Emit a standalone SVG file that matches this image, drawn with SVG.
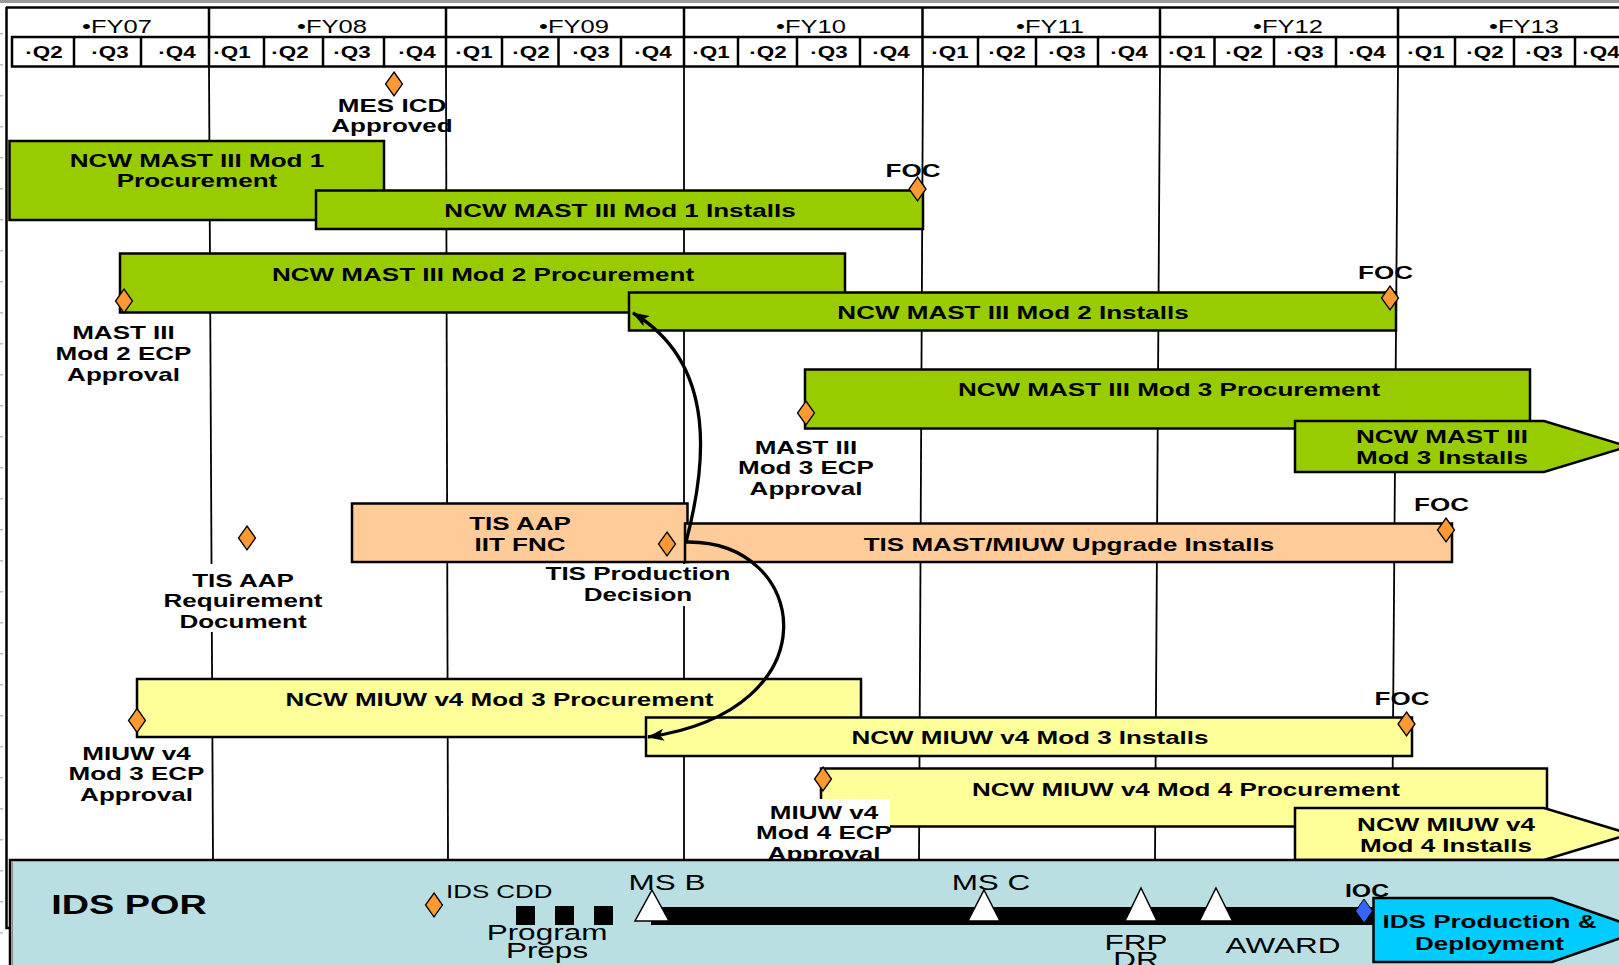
<svg xmlns="http://www.w3.org/2000/svg" width="1619" height="965" viewBox="0 0 1619 965">
  <style>
    .txt{font-family:"Liberation Sans",Arial,sans-serif;font-weight:700;font-size:18.6px;text-anchor:middle;fill:#000}
    .fy{font-weight:400;font-size:18px}
    .q{font-size:16px}
    .reg{font-weight:400;font-size:22.5px}
    .cdd{font-weight:400;font-size:18.5px;text-anchor:start}
    .por{font-size:27px}
    .ioc{font-size:17.7px}
    .bar{stroke:#000;stroke-width:2.5}
    .green{fill:#99CC00}
    .peach{fill:#FFCC99}
    .yellow{fill:#FFFF99}
    .dia{fill:#FF9933;stroke:#000;stroke-width:1.3}
    .grid{stroke:#000;stroke-width:1.8;fill:none}
    .frame{stroke:#000;stroke-width:2.5;fill:none}
    .tick{fill:#BBBBBB}
    .tri{fill:#FFFFFF;stroke:#000;stroke-width:1.5}
    .conn{fill:none;stroke:#000;stroke-width:3.3}
    .mask{fill:#FFFFFF}
  </style>
  <defs>
    <path id="dmd" d="M0,-12 L8.5,0 L0,12 L-8.5,0 Z"/>
    <marker id="ah" viewBox="0 0 17 12" refX="16" refY="6" markerWidth="17" markerHeight="12" markerUnits="userSpaceOnUse" orient="auto">
      <path d="M0,0 L17,6 L0,12 L4,6 Z" fill="#000"/>
    </marker>
  </defs>

  <rect width="1619" height="965" fill="#FFFFFF"/>

  <!-- ruler ticks down the left margin -->
  <g id="ruler">
    <rect class="tick" x="0" y="33" width="3" height="1.5"/>
    <rect class="tick" x="0" y="64" width="3" height="1.5"/>
    <rect class="tick" x="0" y="95" width="3" height="1.5"/>
    <rect class="tick" x="0" y="126" width="3" height="1.5"/>
    <rect class="tick" x="0" y="157" width="3" height="1.5"/>
    <rect class="tick" x="0" y="188" width="3" height="1.5"/>
    <rect class="tick" x="0" y="219" width="3" height="1.5"/>
    <rect class="tick" x="0" y="250" width="3" height="1.5"/>
    <rect class="tick" x="0" y="281" width="3" height="1.5"/>
    <rect class="tick" x="0" y="312" width="3" height="1.5"/>
    <rect class="tick" x="0" y="343" width="3" height="1.5"/>
    <rect class="tick" x="0" y="374" width="3" height="1.5"/>
    <rect class="tick" x="0" y="405" width="3" height="1.5"/>
    <rect class="tick" x="0" y="436" width="3" height="1.5"/>
    <rect class="tick" x="0" y="467" width="3" height="1.5"/>
    <rect class="tick" x="0" y="498" width="3" height="1.5"/>
    <rect class="tick" x="0" y="529" width="3" height="1.5"/>
    <rect class="tick" x="0" y="560" width="3" height="1.5"/>
    <rect class="tick" x="0" y="591" width="3" height="1.5"/>
    <rect class="tick" x="0" y="622" width="3" height="1.5"/>
    <rect class="tick" x="0" y="653" width="3" height="1.5"/>
    <rect class="tick" x="0" y="684" width="3" height="1.5"/>
    <rect class="tick" x="0" y="715" width="3" height="1.5"/>
    <rect class="tick" x="0" y="746" width="3" height="1.5"/>
    <rect class="tick" x="0" y="777" width="3" height="1.5"/>
    <rect class="tick" x="0" y="808" width="3" height="1.5"/>
    <rect class="tick" x="0" y="839" width="3" height="1.5"/>
    <rect class="tick" x="0" y="870" width="3" height="1.5"/>
    <rect class="tick" x="0" y="901" width="3" height="1.5"/>
    <rect class="tick" x="0" y="932" width="3" height="1.5"/>
  </g>

  <!-- outer frame -->
  <g id="frame">
    <rect x="0" y="0" width="1619" height="3" fill="#9A9A9A"/>
    <line class="frame" x1="6" y1="7.5" x2="1619" y2="7.5"/>
    <polyline class="frame" points="6.5,7 6.5,928 10,928"/>
  </g>

  <!-- fiscal year header -->
  <g id="header">
    <g class="frame">
      <line x1="209" y1="7.5" x2="209" y2="37"/>
      <line x1="446" y1="7.5" x2="446" y2="37"/>
      <line x1="684" y1="7.5" x2="684" y2="37"/>
      <line x1="922.5" y1="7.5" x2="922.5" y2="37"/>
      <line x1="1160" y1="7.5" x2="1160" y2="37"/>
      <line x1="1398" y1="7.5" x2="1398" y2="37"/>
      <rect x="12" y="37" width="1615" height="29.5"/>
      <line x1="74" y1="37" x2="74" y2="66.5"/>
      <line x1="141" y1="37" x2="141" y2="66.5"/>
      <line x1="209" y1="37" x2="209" y2="66.5"/>
      <line x1="264" y1="37" x2="264" y2="66.5"/>
      <line x1="323" y1="37" x2="323" y2="66.5"/>
      <line x1="384" y1="37" x2="384" y2="66.5"/>
      <line x1="446" y1="37" x2="446" y2="66.5"/>
      <line x1="502" y1="37" x2="502" y2="66.5"/>
      <line x1="558.5" y1="37" x2="558.5" y2="66.5"/>
      <line x1="621" y1="37" x2="621" y2="66.5"/>
      <line x1="684" y1="37" x2="684" y2="66.5"/>
      <line x1="738" y1="37" x2="738" y2="66.5"/>
      <line x1="797" y1="37" x2="797" y2="66.5"/>
      <line x1="860" y1="37" x2="860" y2="66.5"/>
      <line x1="922.5" y1="37" x2="922.5" y2="66.5"/>
      <line x1="978" y1="37" x2="978" y2="66.5"/>
      <line x1="1036" y1="37" x2="1036" y2="66.5"/>
      <line x1="1098" y1="37" x2="1098" y2="66.5"/>
      <line x1="1160" y1="37" x2="1160" y2="66.5"/>
      <line x1="1214.5" y1="37" x2="1214.5" y2="66.5"/>
      <line x1="1274" y1="37" x2="1274" y2="66.5"/>
      <line x1="1336" y1="37" x2="1336" y2="66.5"/>
      <line x1="1398" y1="37" x2="1398" y2="66.5"/>
      <line x1="1455" y1="37" x2="1455" y2="66.5"/>
      <line x1="1514" y1="37" x2="1514" y2="66.5"/>
      <line x1="1575" y1="37" x2="1575" y2="66.5"/>
    </g>
    <g class="txt fy">
      <text transform="translate(117 33) scale(1.42 1)">•FY07</text>
      <text transform="translate(332 33) scale(1.42 1)">•FY08</text>
      <text transform="translate(574 33) scale(1.42 1)">•FY09</text>
      <text transform="translate(811 33) scale(1.42 1)">•FY10</text>
      <text transform="translate(1050 33) scale(1.42 1)">•FY11</text>
      <text transform="translate(1288 33) scale(1.42 1)">•FY12</text>
      <text transform="translate(1524 33) scale(1.42 1)">•FY13</text>
    </g>
    <g class="txt q">
      <text transform="translate(44 58) scale(1.4 1)">·Q2</text>
      <text transform="translate(110 58) scale(1.4 1)">·Q3</text>
      <text transform="translate(177 58) scale(1.4 1)">·Q4</text>
      <text transform="translate(232 58) scale(1.4 1)">·Q1</text>
      <text transform="translate(290 58) scale(1.4 1)">·Q2</text>
      <text transform="translate(352 58) scale(1.4 1)">·Q3</text>
      <text transform="translate(417 58) scale(1.4 1)">·Q4</text>
      <text transform="translate(474 58) scale(1.4 1)">·Q1</text>
      <text transform="translate(531 58) scale(1.4 1)">·Q2</text>
      <text transform="translate(591 58) scale(1.4 1)">·Q3</text>
      <text transform="translate(653 58) scale(1.4 1)">·Q4</text>
      <text transform="translate(711 58) scale(1.4 1)">·Q1</text>
      <text transform="translate(768 58) scale(1.4 1)">·Q2</text>
      <text transform="translate(829 58) scale(1.4 1)">·Q3</text>
      <text transform="translate(891 58) scale(1.4 1)">·Q4</text>
      <text transform="translate(950 58) scale(1.4 1)">·Q1</text>
      <text transform="translate(1007 58) scale(1.4 1)">·Q2</text>
      <text transform="translate(1067 58) scale(1.4 1)">·Q3</text>
      <text transform="translate(1129 58) scale(1.4 1)">·Q4</text>
      <text transform="translate(1187 58) scale(1.4 1)">·Q1</text>
      <text transform="translate(1244 58) scale(1.4 1)">·Q2</text>
      <text transform="translate(1305 58) scale(1.4 1)">·Q3</text>
      <text transform="translate(1367 58) scale(1.4 1)">·Q4</text>
      <text transform="translate(1426 58) scale(1.4 1)">·Q1</text>
      <text transform="translate(1485 58) scale(1.4 1)">·Q2</text>
      <text transform="translate(1544 58) scale(1.4 1)">·Q3</text>
      <text transform="translate(1601 58) scale(1.4 1)">·Q4</text>
    </g>
  </g>

  <!-- fiscal year grid lines -->
  <g id="grid" class="grid">
    <line x1="209" y1="66" x2="213" y2="860"/>
    <line x1="446" y1="66" x2="448" y2="860"/>
    <line x1="684" y1="66" x2="684" y2="860"/>
    <line x1="923" y1="66" x2="919" y2="860"/>
    <line x1="1160" y1="66" x2="1155" y2="860"/>
    <line x1="1398" y1="66" x2="1392" y2="860"/>
  </g>

  <!-- MAST III bars -->
  <g id="mast1-proc">
    <rect class="bar green" x="9.5" y="141" width="374.5" height="79"/>
    <text class="txt" transform="translate(197 167) scale(1.4 1)">NCW MAST III Mod 1<tspan x="0" dy="20.5">Procurement</tspan></text>
  </g>
  <g id="mast1-inst">
    <rect class="bar green" x="316" y="190.5" width="607" height="38.5"/>
    <text class="txt" transform="translate(620 217) scale(1.4 1)">NCW MAST III Mod 1 Installs</text>
  </g>
  <g id="mast2-proc">
    <rect class="bar green" x="120" y="253.5" width="725" height="59"/>
    <text class="txt" transform="translate(483 280.5) scale(1.4 1)">NCW MAST III Mod 2 Procurement</text>
  </g>
  <g id="mast2-inst">
    <rect class="bar green" x="629" y="292.5" width="767" height="38"/>
    <text class="txt" transform="translate(1013 319.3) scale(1.4 1)">NCW MAST III Mod 2 Installs</text>
  </g>
  <g id="mast3-proc">
    <rect class="bar green" x="805" y="369.5" width="725" height="59"/>
    <text class="txt" transform="translate(1169 396) scale(1.4 1)">NCW MAST III Mod 3 Procurement</text>
  </g>
  <g id="mast3-inst">
    <polygon class="bar green" points="1295,421 1544,421 1628,446.5 1544,472 1295,472"/>
    <text class="txt" transform="translate(1442 443) scale(1.4 1)">NCW MAST III<tspan x="0" dy="21">Mod 3 Installs</tspan></text>
  </g>

  <!-- TIS bars -->
  <g id="tis-aap">
    <rect class="bar peach" x="352" y="503.5" width="335.5" height="58.5"/>
    <text class="txt" transform="translate(520 530) scale(1.4 1)">TIS AAP<tspan x="0" dy="21">IIT FNC</tspan></text>
  </g>
  <g id="tis-installs">
    <rect class="bar peach" x="685" y="523.5" width="767" height="38.5"/>
    <text class="txt" transform="translate(1069 551) scale(1.4 1)">TIS MAST/MIUW Upgrade Installs</text>
  </g>

  <!-- MIUW bars -->
  <g id="miuw3-proc">
    <rect class="bar yellow" x="137" y="679" width="724" height="58"/>
    <text class="txt" transform="translate(499.5 705.7) scale(1.4 1)">NCW MIUW v4 Mod 3 Procurement</text>
  </g>
  <g id="miuw3-inst">
    <rect class="bar yellow" x="646" y="717.5" width="766" height="38.5"/>
    <text class="txt" transform="translate(1030 744) scale(1.4 1)">NCW MIUW v4 Mod 3 Installs</text>
  </g>
  <g id="miuw4-proc">
    <rect class="bar yellow" x="821" y="768.5" width="726" height="58"/>
    <text class="txt" transform="translate(1186 796) scale(1.4 1)">NCW MIUW v4 Mod 4 Procurement</text>
  </g>
  <g id="miuw4-inst">
    <polygon class="bar yellow" points="1295,808 1544,808 1630,834 1544,860 1295,860"/>
    <text class="txt" transform="translate(1446 831) scale(1.4 1)">NCW MIUW v4<tspan x="0" dy="21">Mod 4 Installs</tspan></text>
  </g>

  <!-- milestones -->
  <g id="ms-mes-icd">
    <use href="#dmd" class="dia" x="394" y="84"/>
    <text class="txt" transform="translate(392 112) scale(1.4 1)">MES ICD<tspan x="0" dy="20">Approved</tspan></text>
  </g>
  <g id="ms-mast1-foc">
    <text class="txt" transform="translate(913 177) scale(1.4 1)">FOC</text>
    <use href="#dmd" class="dia" x="917.5" y="189"/>
  </g>
  <g id="ms-mast2-foc">
    <text class="txt" transform="translate(1385.5 279) scale(1.4 1)">FOC</text>
    <use href="#dmd" class="dia" x="1390" y="298"/>
  </g>
  <g id="ms-mast2-ecp">
    <use href="#dmd" class="dia" x="124" y="301"/>
    <text class="txt" transform="translate(123.5 339) scale(1.4 1)">MAST III<tspan x="0" dy="21">Mod 2 ECP</tspan><tspan x="0" dy="21">Approval</tspan></text>
  </g>
  <g id="ms-mast3-ecp">
    <use href="#dmd" class="dia" x="806" y="413"/>
    <text class="txt" transform="translate(806 454) scale(1.4 1)">MAST III<tspan x="0" dy="20.5">Mod 3 ECP</tspan><tspan x="0" dy="20.5">Approval</tspan></text>
  </g>
  <g id="ms-tis-req">
    <use href="#dmd" class="dia" x="247" y="538"/>
    <rect class="mask" x="162" y="564" width="162" height="68"/>
    <text class="txt" transform="translate(243 587) scale(1.4 1)">TIS AAP<tspan x="0" dy="20.5">Requirement</tspan><tspan x="0" dy="20.5">Document</tspan></text>
  </g>
  <g id="ms-tis-prod">
    <rect class="mask" x="544" y="564" width="190" height="42"/>
    <text class="txt" transform="translate(638 580) scale(1.4 1)">TIS Production<tspan x="0" dy="21">Decision</tspan></text>
    <use href="#dmd" class="dia" x="667" y="544"/>
  </g>
  <g id="ms-tis-foc">
    <text class="txt" transform="translate(1441.5 510.7) scale(1.4 1)">FOC</text>
    <use href="#dmd" class="dia" x="1446" y="530"/>
  </g>
  <g id="ms-miuw3-ecp">
    <use href="#dmd" class="dia" x="137" y="720.5"/>
    <text class="txt" transform="translate(136.5 760) scale(1.4 1)">MIUW v4<tspan x="0" dy="20.5">Mod 3 ECP</tspan><tspan x="0" dy="20.5">Approval</tspan></text>
  </g>
  <g id="ms-miuw3-foc">
    <text class="txt" transform="translate(1402 705) scale(1.4 1)">FOC</text>
    <use href="#dmd" class="dia" x="1406.5" y="724"/>
  </g>
  <g id="ms-miuw4-ecp">
    <rect class="mask" x="755" y="799" width="135" height="61"/>
    <use href="#dmd" class="dia" x="823" y="779"/>
    <text class="txt" transform="translate(824 819) scale(1.4 1)">MIUW v4<tspan x="0" dy="20.5">Mod 4 ECP</tspan><tspan x="0" dy="20.5">Approval</tspan></text>
  </g>

  <!-- dependency connectors from the TIS production decision -->
  <g id="connectors">
    <path class="conn" d="M686,542 C705,470 720,365 633,313" marker-end="url(#ah)"/>
    <path class="conn" d="M686,542 C810,540 835,710 648,737" marker-end="url(#ah)"/>
  </g>

  <!-- IDS program of record band -->
  <g id="ids-por">
    <rect x="10" y="860" width="1620" height="110" fill="#BADFE3" stroke="#000" stroke-width="2.5"/>
    <line x1="12.5" y1="862" x2="12.5" y2="965" stroke="#8C8C8C" stroke-width="1"/>
    <text class="txt por" transform="translate(129 914) scale(1.4 1)">IDS POR</text>
  </g>
  <g id="ids-cdd">
    <use href="#dmd" class="dia" x="434" y="905"/>
    <text class="txt cdd" transform="translate(446 898) scale(1.4 1)">IDS CDD</text>
  </g>
  <g id="ids-preps">
    <rect x="516" y="906" width="19" height="19" fill="#000"/>
    <rect x="555" y="906" width="19" height="19" fill="#000"/>
    <rect x="594" y="906" width="19" height="19" fill="#000"/>
    <text class="txt reg" transform="translate(547 940) scale(1.4 1)">Program<tspan x="0" dy="18">Preps</tspan></text>
  </g>
  <g id="ids-timeline">
    <rect x="651" y="907" width="724" height="18" fill="#000"/>
  </g>
  <g id="ids-msb">
    <polygon class="tri" points="652,890 669,921 635,921"/>
    <text class="txt reg" transform="translate(667 890) scale(1.4 1)">MS B</text>
  </g>
  <g id="ids-msc">
    <polygon class="tri" points="984,890 1000,921 968,921"/>
    <text class="txt reg" transform="translate(991 890) scale(1.4 1)">MS C</text>
  </g>
  <g id="ids-frp">
    <polygon class="tri" points="1141,888 1157,921 1125,921"/>
    <text class="txt reg" transform="translate(1136 950) scale(1.4 1)">FRP<tspan x="0" dy="17">DR</tspan></text>
  </g>
  <g id="ids-award">
    <polygon class="tri" points="1216,888 1232.5,921 1199.5,921"/>
    <text class="txt reg" transform="translate(1283 953) scale(1.4 1)">AWARD</text>
  </g>
  <g id="ids-ioc">
    <text class="txt ioc" transform="translate(1367 897) scale(1.4 1)">IOC</text>
    <use href="#dmd" x="1364" y="911" fill="#3366FF" stroke="#000" stroke-width="1"/>
  </g>
  <g id="ids-production">
    <polygon points="1373.5,898 1552,898 1644,930 1552,962 1373.5,962" fill="#00CCFF" stroke="#000" stroke-width="2.5"/>
    <text class="txt" transform="translate(1489.5 928) scale(1.4 1)">IDS Production &amp;<tspan x="0" dy="22">Deployment</tspan></text>
  </g>
</svg>
